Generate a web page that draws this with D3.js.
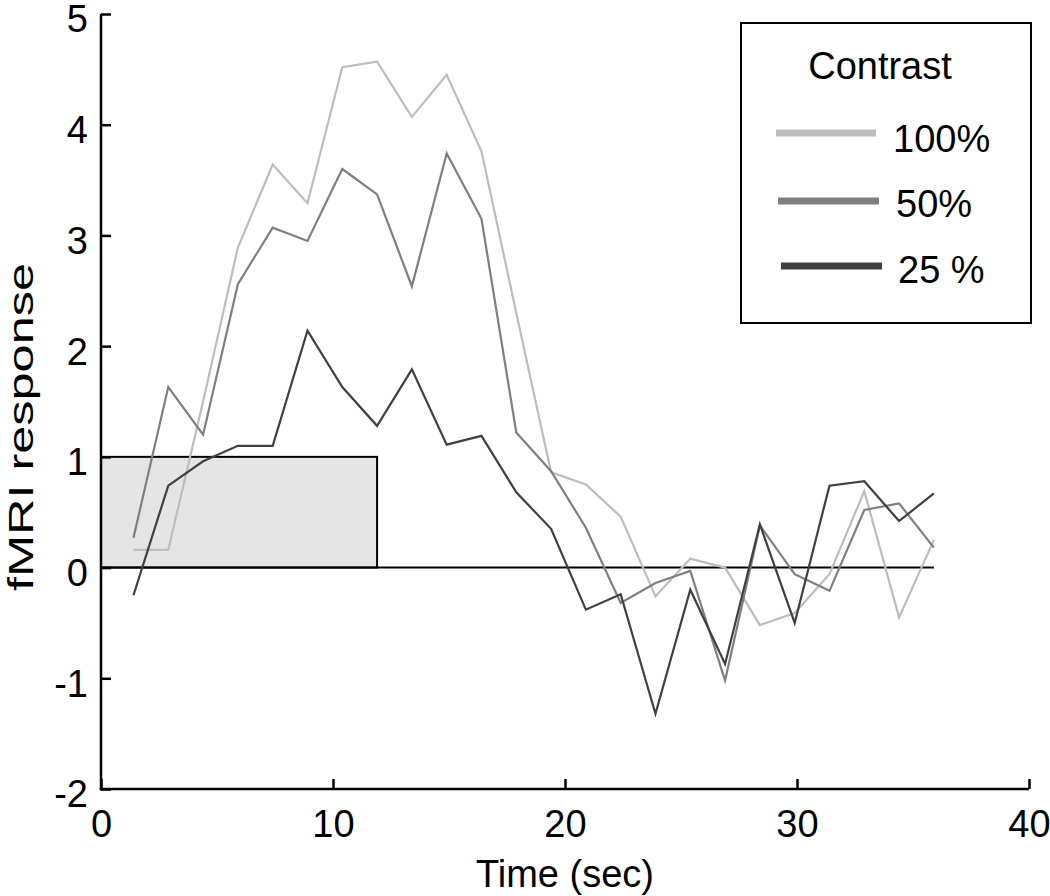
<!DOCTYPE html>
<html>
<head>
<meta charset="utf-8">
<script src="https://cdn.jsdelivr.net/npm/d3@7"></script>
<style>
  html, body { margin: 0; padding: 0; background: #fff; }
  svg { display: block; }
  text { font-family: "Liberation Sans", Arial, sans-serif; fill: #000; }
</style>
</head>
<body>
<svg id="chart" width="1050" height="896"></svg>
<script>
// ---- data ----
const timeSec = [1.4, 2.9, 4.4, 5.9, 7.4, 8.9, 10.4, 11.9, 13.4, 14.9, 16.4, 17.9,
                 19.4, 20.9, 22.4, 23.9, 25.4, 26.9, 28.4, 29.9, 31.4, 32.9, 34.4, 35.9];
const contrast100 = [0.16, 0.16, 1.5, 2.89, 3.64, 3.29, 4.52, 4.57, 4.07, 4.45, 3.76, 2.3,
                     0.86, 0.75, 0.46, -0.26, 0.08, 0.0, -0.52, -0.41, -0.06, 0.69, -0.45, 0.25];
const contrast50 = [0.27, 1.63, 1.2, 2.56, 3.07, 2.95, 3.6, 3.37, 2.54, 3.74, 3.15, 1.22,
                    0.87, 0.36, -0.32, -0.14, -0.03, -1.02, 0.38, -0.06, -0.21, 0.52, 0.58, 0.18];
const contrast25 = [-0.25, 0.74, 0.96, 1.1, 1.1, 2.14, 1.63, 1.28, 1.79, 1.11, 1.19, 0.68,
                    0.35, -0.38, -0.24, -1.32, -0.2, -0.87, 0.39, -0.5, 0.74, 0.78, 0.42, 0.67];
const seriesNames = ["100%", "50%", "25 %"];
const seriesColors = ["#bdbdbd", "#7f7f7f", "#404040"];
const stimulusBlock = { start: 0, end: 11.9, height: 1 };
const baselineEnd = 35.9;
const xTicks = [0, 10, 20, 30, 40];
const yTicks = [-2, -1, 0, 1, 2, 3, 4, 5];
const xLabel = "Time (sec)";
const yLabel = "fMRI response";
const legendTitle = "Contrast";

// ---- layout ----
const svg = d3.select("#chart");
const x = d3.scaleLinear().domain([0, 40]).range([101, 1029]);
const y = d3.scaleLinear().domain([-2, 5]).range([789, 14]);
const FS = 38;

// stimulus block
svg.append("rect")
  .attr("x", x(stimulusBlock.start))
  .attr("y", y(stimulusBlock.height))
  .attr("width", x(stimulusBlock.end) - x(stimulusBlock.start))
  .attr("height", y(0) - y(stimulusBlock.height))
  .attr("fill", "#e5e5e5")
  .attr("stroke", "#000")
  .attr("stroke-width", 2);

// zero baseline
svg.append("line")
  .attr("x1", x(0)).attr("x2", x(baselineEnd))
  .attr("y1", y(0)).attr("y2", y(0))
  .attr("stroke", "#000").attr("stroke-width", 2);

// data lines
const allSeries = [contrast100, contrast50, contrast25];
const line = d3.line().x((d, i) => x(timeSec[i])).y(d => y(d));
allSeries.forEach((vals, si) => {
  svg.append("path")
    .datum(vals)
    .attr("d", line)
    .attr("fill", "none")
    .attr("stroke", seriesColors[si])
    .attr("stroke-width", 2.2)
    .attr("stroke-linejoin", "miter");
});

// axes
const fmt = d => String(d);
const xAxis = d3.axisBottom(x).tickValues(xTicks).tickFormat(fmt)
  .tickSizeInner(-10).tickSizeOuter(0).tickPadding(21);
const gx = svg.append("g").attr("transform", `translate(0,${y(-2)})`).call(xAxis);
const yAxis = d3.axisLeft(y).tickValues(yTicks).tickFormat(fmt)
  .tickSizeInner(-10).tickSizeOuter(0).tickPadding(13);
const gy = svg.append("g").attr("transform", `translate(${x(0)},0)`).call(yAxis);

[gx, gy].forEach(g => {
  g.select(".domain").attr("stroke", "#000").attr("stroke-width", 2.5);
  g.selectAll(".tick line").attr("stroke", "#000").attr("stroke-width", 2.5);
  g.selectAll(".tick text")
    .attr("font-family", '"Liberation Sans", Arial, sans-serif')
    .attr("font-size", FS).attr("fill", "#000");
});
gy.selectAll(".tick text").attr("dy", "0.47em");
// extend domain to cover the corner
gx.select(".domain").attr("d", `M${x(0) - 1.25},0H${x(40)}`);
gy.select(".domain").attr("d", `M0,${y(-2) + 1.25}V${y(5)}`);

// axis titles
svg.append("text")
  .attr("x", (x(0) + x(40)) / 2)
  .attr("y", 887)
  .attr("text-anchor", "middle")
  .attr("font-size", FS)
  .text(xLabel);

svg.append("text")
  .attr("transform", `translate(33,427) rotate(-90)`)
  .attr("text-anchor", "middle")
  .attr("font-size", 35)
  .attr("textLength", 328)
  .attr("lengthAdjust", "spacingAndGlyphs")
  .text(yLabel);

// legend
const lg = svg.append("g");
lg.append("rect")
  .attr("x", 741).attr("y", 23).attr("width", 290).attr("height", 300)
  .attr("fill", "#fff").attr("stroke", "#000").attr("stroke-width", 2);
lg.append("text")
  .attr("x", 880).attr("y", 79)
  .attr("text-anchor", "middle")
  .attr("font-size", FS)
  .text(legendTitle);
const legendRows = [
  { x1: 776, x2: 876, ly: 133, tx: 893, ty: 152 },
  { x1: 778, x2: 879, ly: 201, tx: 896, ty: 217 },
  { x1: 781, x2: 882, ly: 266, tx: 898, ty: 283 }
];
seriesNames.forEach((name, i) => {
  const r = legendRows[i];
  lg.append("line")
    .attr("x1", r.x1).attr("x2", r.x2).attr("y1", r.ly).attr("y2", r.ly)
    .attr("stroke", seriesColors[i]).attr("stroke-width", 7);
  lg.append("text")
    .attr("x", r.tx).attr("y", r.ty)
    .attr("font-size", FS)
    .text(name);
});
</script>
</body>
</html>
